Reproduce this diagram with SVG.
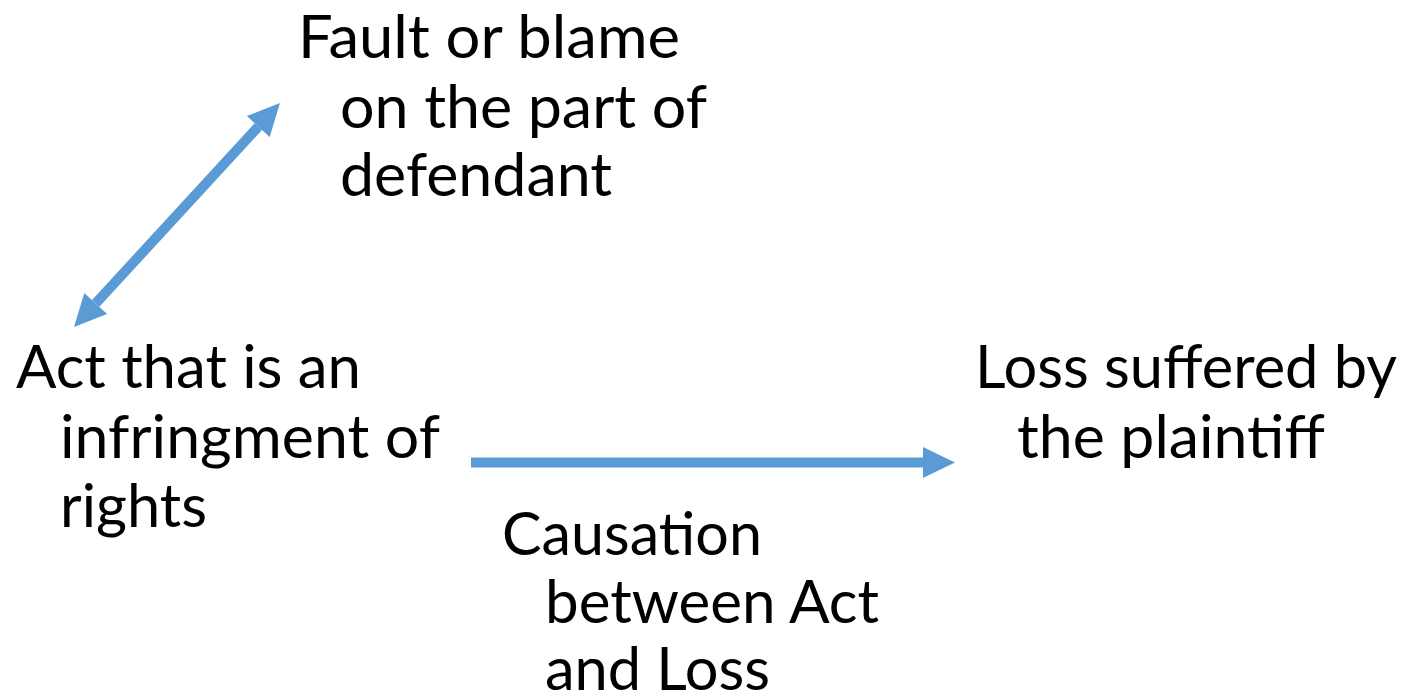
<svg xmlns="http://www.w3.org/2000/svg" width="1402" height="698" viewBox="0 0 1402 698">
<style>
text{font-family:"Lato","Open Sans","Liberation Sans",sans-serif;font-size:60px;fill:#000}
.c{stroke:#5B9BD5;stroke-width:10;fill:none}
.h{fill:#5B9BD5}
</style>
<rect width="1402" height="698" fill="#fff"/>
<g id="connectors">
<line class="c" x1="95.7" y1="303.4" x2="258.3" y2="126.6"/>
<polygon class="h" points="280,103 269.7,137.1 246.9,116.1"/>
<polygon class="h" points="74,327 84.3,292.9 107.1,313.9"/>
<line class="c" x1="471" y1="462.5" x2="924" y2="462.5"/>
<polygon class="h" points="923,447 955,462.5 923,478"/>
</g>
<g id="fault">
<text x="298" y="58" textLength="382" lengthAdjust="spacingAndGlyphs">Fault or blame</text>
<text x="340" y="128" textLength="367" lengthAdjust="spacingAndGlyphs">on the part of</text>
<text x="340" y="196" textLength="272" lengthAdjust="spacingAndGlyphs">defendant</text>
</g>
<g id="act">
<text x="16" y="388" textLength="345" lengthAdjust="spacingAndGlyphs">Act that is an</text>
<text x="60" y="458" textLength="380" lengthAdjust="spacingAndGlyphs">infringment of</text>
<text x="60" y="527" textLength="147" lengthAdjust="spacingAndGlyphs">rights</text>
</g>
<g id="loss">
<text x="975" y="388" textLength="422" lengthAdjust="spacingAndGlyphs">Loss suffered by</text>
<text x="1017" y="458" textLength="308" lengthAdjust="spacingAndGlyphs">the plaintiff</text>
</g>
<g id="causation">
<text x="502" y="555" textLength="260" lengthAdjust="spacingAndGlyphs">Causation</text>
<text x="545" y="623" textLength="334" lengthAdjust="spacingAndGlyphs">between Act</text>
<text x="545" y="690" textLength="225" lengthAdjust="spacingAndGlyphs">and Loss</text>
</g>
</svg>
